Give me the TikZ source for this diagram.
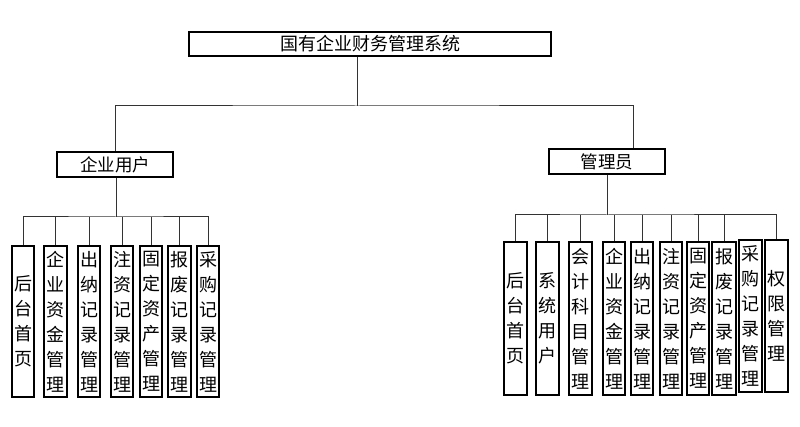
\documentclass[tikz,border=0pt]{standalone}
\usepackage{fontspec}
\setmainfont{Noto Sans CJK SC}
\begin{document}
\begin{tikzpicture}[x=1pt,y=-1pt,
  box/.style={draw=black,line width=1.5pt,fill=white,inner sep=0pt,font=\fontsize{17.5}{25}\selectfont},
  leaf/.style={box,align=center,minimum width=22pt,font=\fontsize{18}{25}\selectfont},
  conn/.style={draw=black!80,line width=1pt}]
\useasboundingbox[fill=white] (0,0) rectangle (800,427);
% top level
\node[box,minimum width=362pt,minimum height=24pt,font=\fontsize{18}{22}\selectfont] (root) at (370,44) {国有企业财务管理系统};
\node[box,minimum width=116pt,minimum height=25pt] (eu) at (115,164.5) {企业用户};
\node[box,minimum width=116pt,minimum height=25pt] (adm) at (607,161.5) {管理员};
\coordinate (t) at (357,106);
\draw[conn] (root.south -| t) -- (t);
\draw[conn] (eu.north) |- (t) -| ([xshift=26pt]adm.north);
% left leaves
\foreach \n/\xa/\xb/\txt in {1/12/34/{后\\台\\首\\页},2/44/67/{企\\业\\资\\金\\管\\理},3/78/100/{出\\纳\\记\\录\\管\\理},4/111/133/{注\\资\\记\\录\\管\\理},5/140/162/{固\\定\\资\\产\\管\\理},6/168/191/{报\\废\\记\\录\\管\\理},7/197/219/{采\\购\\记\\录\\管\\理}}{
  \node[leaf,minimum width={\xb-\xa},minimum height=151pt] (l\n) at ({(\xa+\xb)/2},321.5) {\txt};
}
\coordinate (bl) at (116,217);
\draw[conn] (eu.south -| bl) -- (bl);
\draw[conn] (l1.north) |- (bl) -| (l7.north);
\foreach \n in {2,...,6}{\draw[conn] (l\n.north) -- (l\n.north |- bl);}
% right leaves
\foreach \n/\xa/\xb/\yc/\txt in {1/504/527/318.5/{后\\台\\首\\页},2/536/559/318.5/{系\\统\\用\\户},3/569/592/318.5/{会\\计\\科\\目\\管\\理},4/603/625/318.5/{企\\业\\资\\金\\管\\理},5/631/653/318.5/{出\\纳\\记\\录\\管\\理},6/660/682/318.5/{注\\资\\记\\录\\管\\理},7/687/709/318.5/{固\\定\\资\\产\\管\\理},8/712/736/318.5/{报\\废\\记\\录\\管\\理},9/739/762/316/{采\\购\\记\\录\\管\\理},10/765/788/316/{权\\限\\管\\理}}{
  \node[leaf,minimum width={\xb-\xa},minimum height={\yc>317?153:152}] (r\n) at ({(\xa+\xb)/2},\yc) {\txt};
}
\coordinate (br) at (607,215);
\draw[conn] (adm.south) -- (br);
\draw[conn] (r1.north) |- (br) -| (r10.north);
\foreach \n in {2,...,8}{\draw[conn] (r\n.north) -- (r\n.north |- br);}
\end{tikzpicture}
\end{document}
